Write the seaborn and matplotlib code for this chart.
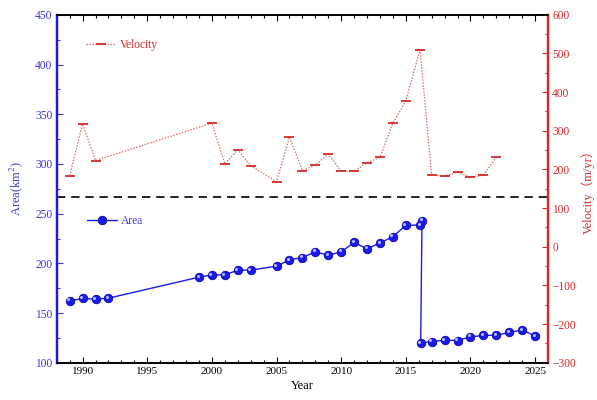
import numpy as np
import pandas as pd
import matplotlib
matplotlib.use("Agg")
import matplotlib.pyplot as plt
import matplotlib.transforms as mtransforms
from matplotlib.ticker import MultipleLocator
import seaborn as sns

# ---- data ----
area_years = [1989, 1990, 1991, 1992, 1999, 2000, 2001, 2002, 2003, 2005, 2006,
              2007, 2008, 2009, 2010, 2011, 2012, 2013, 2014, 2015, 2016.1,
              2016.25, 2016.15, 2017, 2018, 2019, 2020, 2021, 2022, 2023, 2024, 2025]
area_values = [162.3, 164.7, 164.0, 165.0, 186.1, 188.4, 188.4, 193.2, 193.2, 197.2,
               203.5, 205.9, 211.6, 208.2, 211.6, 221.0, 214.6, 220.6, 226.7, 238.4,
               238.4, 242.8, 120.0, 121.4, 122.7, 122.4, 126.1, 127.5, 127.8, 130.5,
               133.1, 126.8]
vel_years = [1989, 1990, 1991, 2000, 2001, 2002, 2003, 2005, 2006, 2007, 2008, 2009,
             2010, 2011, 2012, 2013, 2014, 2015, 2016.1, 2017, 2018, 2019, 2020, 2021, 2022]
vel_values = [184, 318, 223, 320, 214, 251, 210, 168, 284, 197, 211, 240,
              196, 195, 218, 231, 320, 377, 510, 185, 183, 193, 180, 185, 233]
threshold_area = 267

area_df = pd.DataFrame({"Year": area_years, "Area": area_values})
vel_df = pd.DataFrame({"Year": vel_years, "Velocity": vel_values})

sns.set_style("white")
plt.rcParams["font.family"] = ["Liberation Serif", "Noto Sans CJK SC"]
plt.rcParams["mathtext.fontset"] = "stix"

BLUE = "#1a1aee"
BLUE_TXT = "#3a3ad8"
RED = "#d42a2a"
RED_LINE = "#e36a6a"

fig = plt.figure(figsize=(5.97, 4.0), dpi=100)
ax = fig.add_axes([0.095, 0.093, 0.823, 0.870])
ax2 = ax.twinx()

# velocity (right axis)
sns.lineplot(data=vel_df, x="Year", y="Velocity", ax=ax2, sort=False, estimator=None,
             color=RED_LINE, linestyle=(0, (1.2, 1.2)), linewidth=0.9,
             marker="_", markersize=6.5, markeredgewidth=1.3, markeredgecolor=RED,
             label="Velocity", legend=False)

# area (left axis)
sns.lineplot(data=area_df, x="Year", y="Area", ax=ax, sort=False, estimator=None,
             color=BLUE, linewidth=1.0, marker="o", markersize=6.2,
             markerfacecolor=BLUE, markeredgecolor="#0000a0", markeredgewidth=0.5,
             label="Area", legend=False)
# sphere highlight
hl = mtransforms.offset_copy(ax.transData, fig=fig, x=-1.0, y=1.0, units="points")
ax.plot(area_df["Year"], area_df["Area"], linestyle="none", marker="o", markersize=2.2,
        markerfacecolor="#b8b8ff", markeredgewidth=0, transform=hl, zorder=5)

ax.axhline(threshold_area, color="black", linestyle=(0, (5, 3.5)), linewidth=1.2, zorder=1)

ax.set_xlim(1988, 2026)
ax.set_ylim(100, 450)
ax2.set_ylim(-300, 600)
ax.xaxis.set_major_locator(MultipleLocator(5))
ax.xaxis.set_minor_locator(MultipleLocator(1))
ax.yaxis.set_major_locator(MultipleLocator(50))
ax.yaxis.set_minor_locator(MultipleLocator(25))
ax2.yaxis.set_major_locator(MultipleLocator(100))
ax2.yaxis.set_minor_locator(MultipleLocator(50))

ax.set_xlabel("Year", fontsize=9, color="black", labelpad=3)
ax.set_ylabel("Area(km$^2$)", fontsize=9, color=BLUE_TXT, labelpad=7)
ax2.set_ylabel("Velocity（m/yr）", fontsize=9, color=RED, labelpad=4)

ax.tick_params(axis="x", which="both", direction="in", top=True, bottom=True,
               labelsize=8, colors="black", pad=3)
ax.tick_params(axis="x", which="major", length=4, width=0.8)
ax.tick_params(axis="x", which="minor", length=2, width=0.8)
ax.tick_params(axis="y", which="both", direction="in", left=True, right=False,
               labelsize=8.3, colors=BLUE_TXT, pad=3)
ax.tick_params(axis="y", which="major", length=4, width=0.8)
ax.tick_params(axis="y", which="minor", length=2, width=0.8)
ax2.tick_params(axis="y", which="both", direction="in", right=True, left=False,
                labelsize=8.3, colors=RED, pad=3)
ax2.tick_params(axis="y", which="major", length=4, width=0.8)
ax2.tick_params(axis="y", which="minor", length=2, width=0.8)

for a in (ax, ax2):
    a.spines["left"].set_color(BLUE)
    a.spines["right"].set_color(RED)
    a.spines["top"].set_color("black")
    a.spines["bottom"].set_color("black")
    for s in a.spines.values():
        s.set_linewidth(1.2)
    a.spines["left"].set_linewidth(1.6)
    a.spines["right"].set_linewidth(1.6)

l1 = ax2.legend(loc="center left", bbox_to_anchor=(0.06, 0.913), frameon=False,
                fontsize=8.3, handlelength=2.6, handletextpad=0.3, labelcolor=RED,
                borderpad=0, borderaxespad=0)
l2 = ax.legend(loc="center left", bbox_to_anchor=(0.062, 0.408), frameon=False,
               fontsize=8.3, handlelength=2.6, handletextpad=0.3, labelcolor=BLUE_TXT,
               borderpad=0, borderaxespad=0)

fig.savefig("out.png", dpi=100)
